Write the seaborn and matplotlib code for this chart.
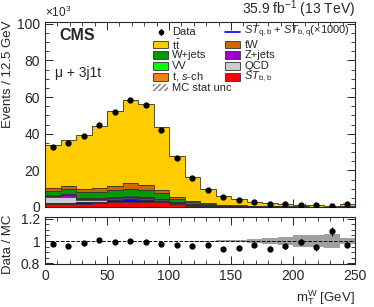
import numpy as np
import pandas as pd
import matplotlib
matplotlib.use("Agg")
import matplotlib.pyplot as plt
from matplotlib.patches import Rectangle
from matplotlib.ticker import MultipleLocator
import seaborn as sns

# binning: 20 bins of 12.5 GeV in m_T^W
edges = np.arange(0, 250.1, 12.5)
centers = 0.5 * (edges[:-1] + edges[1:])

# event yields in units of 10^3
st_bb = [1.4, 1.5, 1.8, 2.0, 2.7, 2.9, 2.9, 2.5, 1.4, 0.8, 0.4, 0.25, 0.15, 0.1, 0.08, 0.06, 0.05, 0.04, 0.03, 0.05]
st_sig = [0.8, 0.9, 0.9, 1.0, 1.1, 1.2, 1.1, 0.9, 0.6, 0.4, 0.3, 0.2, 0.15, 0.12, 0.1, 0.08, 0.06, 0.05, 0.04, 0.06]
qcd = [3.0, 3.3, 1.2, 1.0, 0.7, 0.6, 0.6, 0.4, 0.3, 0.2, 0.1, 0.1, 0.05, 0.05, 0.05, 0.03, 0.03, 0.03, 0.02, 0.03]
zjets = [0.7, 0.9, 0.6, 0.6, 0.6, 0.6, 0.5, 0.4, 0.2, 0.1, 0.08, 0.05, 0.04, 0.03, 0.02, 0.02, 0.01, 0.01, 0.01, 0.02]
t_sch = [0.3, 0.3, 0.3, 0.3, 0.35, 0.35, 0.3, 0.25, 0.15, 0.08, 0.05, 0.03, 0.02, 0.02, 0.01, 0.01, 0.01, 0.01, 0.01, 0.01]
vv = [0.1, 0.1, 0.1, 0.1, 0.12, 0.12, 0.1, 0.08, 0.05, 0.03, 0.02, 0.01, 0.01, 0.01, 0.01, 0.01, 0.01, 0.01, 0.01, 0.01]
wjets = [2.7, 2.9, 3.1, 3.3, 3.8, 4.3, 4.0, 3.0, 1.6, 0.9, 0.5, 0.3, 0.2, 0.15, 0.1, 0.08, 0.06, 0.05, 0.04, 0.08]
tw = [1.3, 1.6, 2.0, 2.1, 2.2, 3.0, 2.5, 1.9, 1.2, 1.0, 0.55, 0.36, 0.27, 0.2, 0.15, 0.1, 0.08, 0.07, 0.06, 0.1]
ttbar = [23.3, 25.1, 29.5, 34.0, 40.6, 45.3, 44.2, 34.0, 22.3, 13.0, 7.6, 4.7, 3.31, 2.02, 1.48, 1.06, 0.79, 0.63, 0.48, 1.44]
data = [32.7, 34.9, 38.8, 44.8, 51.9, 58.2, 55.9, 42.3, 26.9, 15.8, 9.3, 5.6, 3.95, 2.6, 1.86, 1.38, 1.09, 0.85, 0.76, 1.74]
mc_rel_unc = [0.002, 0.002, 0.002, 0.002, 0.002, 0.002, 0.002, 0.002, 0.003, 0.004,
              0.005, 0.008, 0.012, 0.018, 0.025, 0.035, 0.05, 0.05, 0.065, 0.03]

# stacking order, bottom to top
processes = ["ST_bb", "ST_sig", "QCD", "Z+jets", "t_sch", "VV", "W+jets", "tW", "ttbar"]
yields = [st_bb, st_sig, qcd, zjets, t_sch, vv, wjets, tw, ttbar]
colors = {"ST_bb": "#ff0000", "ST_sig": "#0000ff", "QCD": "#cccccc", "Z+jets": "#9900cc",
          "t_sch": "#ff7f0e", "VV": "#00ff00", "W+jets": "#009900", "tW": "#cc6600",
          "ttbar": "#ffcc00"}

# legend columns (label, style key)
left_entries = [("Data", "data"), (r"t$\bar{\rm t}$", "ttbar"), ("W+jets", "W+jets"),
                ("VV", "VV"), (r"t, $s$-ch", "t_sch"), ("MC stat unc", "hatch")]
right_entries = [(r"$ST_{\rm q,b}$ + $ST_{\rm b,q}$($\times$1000)", "line"), ("tW", "tW"),
                 ("Z+jets", "Z+jets"), ("QCD", "QCD"), (r"$ST_{\rm b,b}$", "ST_bb")]

stack = pd.DataFrame(dict(zip(processes, yields)), index=centers)
cum = stack.cumsum(axis=1)

mc_total = cum["ttbar"].values
data = np.array(data)
data_err = np.sqrt(data * 1000) / 1000

sns.set_style("ticks")
plt.rcParams["font.family"] = ["Liberation Sans", "DejaVu Sans"]
plt.rcParams["mathtext.fontset"] = "custom"
plt.rcParams["mathtext.rm"] = "Liberation Sans"
plt.rcParams["mathtext.it"] = "Liberation Sans:italic"

fig = plt.figure(figsize=(3.74, 3.07), dpi=100)
W, H = 374, 307
ax1 = fig.add_axes([45 / W, 1 - 207 / H, 310 / W, 185 / H])
ax2 = fig.add_axes([45 / W, 1 - 264 / H, 310 / W, 47 / H])

# stacked MC, drawn top-down so lower layers sit over the upper fills
for name in processes[::-1]:
    ax1.stairs(cum[name].values, edges, fill=True, color=colors[name], zorder=1)
    ax1.stairs(cum[name].values, edges, color="#333333", lw=0.6, zorder=2)
ax1.errorbar(centers, data, yerr=data_err, fmt="o", color="k", ms=3.5, lw=0.8, zorder=3)

ax1.set_xlim(0, 250)
ax1.set_ylim(0, 101)
ax1.set_ylabel("Events / 12.5 GeV", loc="top", fontsize=9.5)
ax1.yaxis.set_label_coords(-0.1, 1.01)
ax1.set_xticklabels([])
ax1.yaxis.set_major_locator(MultipleLocator(20))
ax1.yaxis.set_minor_locator(MultipleLocator(5))
ax1.xaxis.set_major_locator(MultipleLocator(50))
ax1.xaxis.set_minor_locator(MultipleLocator(10))

ax1.text(0.0, 1.01, r"$\times10^{3}$", transform=ax1.transAxes, ha="left", va="bottom", fontsize=8.5)
ax1.text(1.0, 1.01, r"35.9 fb$^{-1}$ (13 TeV)", transform=ax1.transAxes, ha="right", va="bottom", fontsize=10)
ax1.text(0.045, 0.965, "CMS", transform=ax1.transAxes, fontweight="bold", fontsize=11.5, va="top")
ax1.text(0.033, 0.725, "\u03bc + 3j1t", transform=ax1.transAxes, fontsize=10, va="center")


# hand-placed two-column legend, positions in figure pixels
def px(x, y):
    return (x - 45) / 310, (207 - y) / 185


def legend_column(entries, x0, rows):
    for (label, key), y in zip(entries, rows):
        bx, by = px(x0, y + 3.8)
        bw, bh = 15 / 310, 7.6 / 185
        if key == "data":
            cx, cy = px(x0 + 8, y)
            ax1.plot([cx], [cy], "o", color="k", ms=3, transform=ax1.transAxes, clip_on=False)
            ax1.plot([cx, cx], [cy - 3 / 185, cy + 3 / 185], color="k", lw=0.8, transform=ax1.transAxes)
        elif key == "line":
            lx0, ly = px(x0, y)
            ax1.plot([lx0, lx0 + bw], [ly, ly], color=colors["ST_sig"], lw=1.2, transform=ax1.transAxes)
        elif key == "hatch":
            ax1.add_patch(Rectangle((bx, by), bw, bh, transform=ax1.transAxes, facecolor="white",
                                    edgecolor="#777777", hatch="//////", lw=0, zorder=4))
        else:
            ax1.add_patch(Rectangle((bx, by), bw, bh, transform=ax1.transAxes, facecolor=colors[key],
                                    edgecolor="#333333", lw=0.6, zorder=4))
        tx, ty = px(x0 + 19.5, y)
        ax1.text(tx, ty, label, transform=ax1.transAxes, fontsize=8, va="center", ha="left")


rows = [32, 44.5, 55.2, 66, 76.8, 87.6]
legend_column(left_entries, 152.5, rows)
legend_column(right_entries, 225, rows)

# ratio panel
ratio = data / mc_total
ratio_err = data_err / mc_total
unc = np.array(mc_rel_unc)
ax2.bar(centers, 2 * unc, bottom=1 - unc, width=12.5, color="#a0a0a0", lw=0)
ax2.axhline(1, color="k", ls="--", lw=0.7)
ax2.errorbar(centers, ratio, yerr=ratio_err, fmt="o", color="k", ms=3.5, lw=0.8)
ax2.set_xlim(0, 250)
ax2.set_ylim(0.795, 1.215)
ax2.set_yticks([0.8, 1.0, 1.2])
ax2.set_yticklabels(["0.8", "1", "1.2"])
ax2.yaxis.set_minor_locator(MultipleLocator(0.05))
ax2.xaxis.set_major_locator(MultipleLocator(50))
ax2.xaxis.set_minor_locator(MultipleLocator(10))
ax2.set_ylabel("Data / MC", fontsize=9.5)
ax2.yaxis.set_label_coords(-0.1, 0.42)
ax2.set_xlabel(r"m$_{\rm T}^{\rm W}$ [GeV]", loc="right", fontsize=9.5)

for ax in (ax1, ax2):
    ax.tick_params(which="both", direction="in", top=True, right=True, labelsize=10)
    ax.tick_params(which="major", length=6, width=0.7)
    ax.tick_params(which="minor", length=3, width=0.6)
    for s in ax.spines.values():
        s.set_linewidth(0.8)

fig.savefig("out.png", dpi=100)
